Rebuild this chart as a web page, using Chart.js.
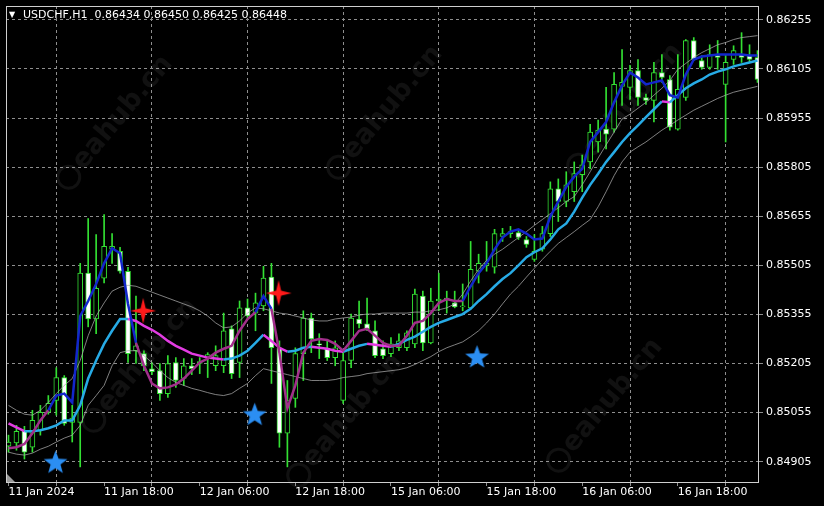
<!DOCTYPE html>
<html>
<head>
<meta charset="utf-8">
<title>USDCHF,H1</title>
<script src="https://cdn.jsdelivr.net/npm/chart.js@4.4.1/dist/chart.umd.min.js"></script>
<style>
  html, body { margin: 0; padding: 0; background: #000; }
  canvas { display: block; }
</style>
</head>
<body>
<canvas id="chart" width="824" height="506"></canvas>
<script>
const symbolTitle = 'USDCHF,H1  0.86434 0.86450 0.86425 0.86448';

// hourly bars, bar 0 = 11 Jan 06:00 (weekend gap after bar 41)
const labelBars = [0, 12, 24, 36, 48, 60, 72, 84];
const labelTexts = ['11 Jan 2024', '11 Jan 18:00', '12 Jan 06:00', '12 Jan 18:00',
  '15 Jan 06:00', '15 Jan 18:00', '16 Jan 06:00', '16 Jan 18:00'];
const priceTicks = [0.84905, 0.85055, 0.85205, 0.85355, 0.85505, 0.85655, 0.85805, 0.85955, 0.86105, 0.86255];

const opens = [
  0.84952, 0.84962, 0.85001, 0.84949, 0.85001, 0.85056, 0.85092, 0.85162, 0.85025, 0.85025,
  0.85481, 0.85341, 0.85466, 0.85554, 0.85548, 0.85487, 0.85244, 0.85235, 0.85189, 0.85183,
  0.85113, 0.85208, 0.85159, 0.85198, 0.85205, 0.85223, 0.85198, 0.85198, 0.85311, 0.85208,
  0.85375, 0.85359, 0.85381, 0.85469, 0.85253, 0.84992, 0.85098, 0.85235, 0.85344, 0.85265,
  0.85250, 0.85223, 0.85092, 0.85214, 0.85341, 0.85326, 0.85305, 0.85250, 0.85235, 0.85253,
  0.85253, 0.85265, 0.85411, 0.85268, 0.85396, 0.85399, 0.85390, 0.85378, 0.85375, 0.85487,
  0.85505, 0.85499, 0.85593, 0.85602, 0.85605, 0.85584, 0.85523, 0.85554, 0.85602, 0.85739,
  0.85700, 0.85730, 0.85782, 0.85821, 0.85882, 0.85921, 0.85921, 0.86052, 0.86049, 0.86100,
  0.86018, 0.86009, 0.86094, 0.86073, 0.85921, 0.86018, 0.86192, 0.86131, 0.86110, 0.86146,
  0.86058, 0.86134, 0.86149, 0.86146, 0.86140
];
const highs = [
  0.84986, 0.85016, 0.85013, 0.85062, 0.85077, 0.85107, 0.85192, 0.85168, 0.85077, 0.85511,
  0.85648, 0.85599, 0.85660, 0.85602, 0.85560, 0.85499, 0.85411, 0.85244, 0.85208, 0.85205,
  0.85229, 0.85223, 0.85220, 0.85220, 0.85223, 0.85238, 0.85259, 0.85359, 0.85320, 0.85396,
  0.85402, 0.85420, 0.85502, 0.85511, 0.85274, 0.85153, 0.85253, 0.85366, 0.85359, 0.85296,
  0.85274, 0.85274, 0.85238, 0.85356, 0.85396, 0.85405, 0.85335, 0.85274, 0.85284, 0.85296,
  0.85305, 0.85432, 0.85426, 0.85435, 0.85481, 0.85426, 0.85426, 0.85448, 0.85578, 0.85539,
  0.85578, 0.85615, 0.85618, 0.85624, 0.85615, 0.85593, 0.85599, 0.85624, 0.85760, 0.85769,
  0.85791, 0.85821, 0.85842, 0.85936, 0.85949, 0.86049, 0.86094, 0.86164, 0.86116, 0.86134,
  0.86028, 0.86125, 0.86149, 0.86085, 0.86149, 0.86195, 0.86201, 0.86146, 0.86179, 0.86192,
  0.86149, 0.86176, 0.86216, 0.86179, 0.86161
];
const lows = [
  0.84934, 0.84940, 0.84913, 0.84934, 0.84986, 0.85050, 0.85047, 0.85016, 0.84965, 0.84889,
  0.85317, 0.85296, 0.85451, 0.85511, 0.85481, 0.85208, 0.85205, 0.85183, 0.85171, 0.85092,
  0.85101, 0.85132, 0.85138, 0.85171, 0.85174, 0.85162, 0.85183, 0.85177, 0.85159, 0.85162,
  0.85341, 0.85305, 0.85366, 0.85144, 0.84949, 0.84889, 0.85071, 0.85153, 0.85238, 0.85220,
  0.85214, 0.85198, 0.85083, 0.85192, 0.85314, 0.85305, 0.85223, 0.85220, 0.85226, 0.85244,
  0.85244, 0.85253, 0.85244, 0.85265, 0.85366, 0.85359, 0.85375, 0.85366, 0.85372, 0.85451,
  0.85487, 0.85481, 0.85578, 0.85590, 0.85584, 0.85560, 0.85517, 0.85548, 0.85593, 0.85639,
  0.85684, 0.85700, 0.85730, 0.85800, 0.85851, 0.85861, 0.85912, 0.85994, 0.86012, 0.85994,
  0.85997, 0.85943, 0.86064, 0.85918, 0.85918, 0.86009, 0.86131, 0.86104, 0.86104, 0.86104,
  0.85882, 0.86119, 0.86125, 0.86125, 0.86064
];
const closes = [
  0.84965, 0.84998, 0.84934, 0.85031, 0.85056, 0.85083, 0.85162, 0.85022, 0.85038, 0.85481,
  0.85341, 0.85435, 0.85563, 0.85563, 0.85487, 0.85235, 0.85259, 0.85198, 0.85180, 0.85113,
  0.85205, 0.85153, 0.85198, 0.85189, 0.85211, 0.85232, 0.85229, 0.85305, 0.85174, 0.85375,
  0.85350, 0.85390, 0.85466, 0.85253, 0.84992, 0.85092, 0.85235, 0.85344, 0.85280, 0.85262,
  0.85223, 0.85253, 0.85214, 0.85344, 0.85326, 0.85311, 0.85229, 0.85229, 0.85265, 0.85274,
  0.85299, 0.85417, 0.85268, 0.85396, 0.85402, 0.85405, 0.85378, 0.85381, 0.85493, 0.85511,
  0.85511, 0.85602, 0.85602, 0.85608, 0.85590, 0.85569, 0.85548, 0.85602, 0.85739, 0.85700,
  0.85751, 0.85785, 0.85812, 0.85912, 0.85918, 0.85906, 0.86058, 0.86064, 0.86100, 0.86018,
  0.86009, 0.86094, 0.86079, 0.85927, 0.86043, 0.86192, 0.86134, 0.86110, 0.86149, 0.86140,
  0.86125, 0.86161, 0.86140, 0.86134, 0.86073
];

// slow average: light blue when rising, magenta when falling
const slowMA = [
  0.85022, 0.85010, 0.84998, 0.84998, 0.85001, 0.85007, 0.85016, 0.85031, 0.85031, 0.85077,
  0.85159, 0.85214, 0.85265, 0.85305, 0.85341, 0.85341, 0.85335, 0.85320, 0.85308, 0.85293,
  0.85274, 0.85259, 0.85247, 0.85235, 0.85229, 0.85223, 0.85220, 0.85217, 0.85220, 0.85229,
  0.85244, 0.85268, 0.85293, 0.85274, 0.85253, 0.85241, 0.85244, 0.85253, 0.85256, 0.85253,
  0.85250, 0.85244, 0.85241, 0.85250, 0.85259, 0.85265, 0.85262, 0.85259, 0.85256, 0.85265,
  0.85277, 0.85287, 0.85302, 0.85317, 0.85329, 0.85338, 0.85347, 0.85356, 0.85372, 0.85396,
  0.85417, 0.85441, 0.85463, 0.85481, 0.85505, 0.85530, 0.85545, 0.85557, 0.85584, 0.85615,
  0.85633, 0.85669, 0.85712, 0.85751, 0.85785, 0.85821, 0.85851, 0.85882, 0.85909, 0.85933,
  0.85958, 0.85982, 0.86006, 0.86003, 0.86025, 0.86046, 0.86061, 0.86073, 0.86088, 0.86097,
  0.86104, 0.86113, 0.86119, 0.86125, 0.86131
];
// fast average: blue inside fastBlueRanges, purple elsewhere
const fastMA = [
  0.84946, 0.84949, 0.84959, 0.84992, 0.85031, 0.85062, 0.85107, 0.85113, 0.85086, 0.85350,
  0.85396, 0.85448, 0.85511, 0.85557, 0.85542, 0.85387, 0.85268, 0.85198, 0.85144, 0.85129,
  0.85132, 0.85141, 0.85159, 0.85183, 0.85208, 0.85220, 0.85238, 0.85250, 0.85259, 0.85305,
  0.85341, 0.85362, 0.85411, 0.85372, 0.85238, 0.85068, 0.85138, 0.85238, 0.85274, 0.85280,
  0.85277, 0.85265, 0.85244, 0.85274, 0.85305, 0.85311, 0.85290, 0.85268, 0.85259, 0.85259,
  0.85290, 0.85329, 0.85335, 0.85359, 0.85390, 0.85402, 0.85396, 0.85396, 0.85441, 0.85481,
  0.85511, 0.85554, 0.85590, 0.85608, 0.85615, 0.85602, 0.85584, 0.85587, 0.85654, 0.85700,
  0.85745, 0.85776, 0.85800, 0.85882, 0.85912, 0.85943, 0.86003, 0.86055, 0.86094, 0.86079,
  0.86058, 0.86064, 0.86070, 0.86025, 0.86018, 0.86088, 0.86134, 0.86143, 0.86146, 0.86149,
  0.86149, 0.86149, 0.86149, 0.86146, 0.86146
];
const fastBlueRanges = [[5, 15], [31, 32], [57, 93]];

const upperBand = [
  0.85077, 0.85062, 0.85050, 0.85047, 0.85062, 0.85086, 0.85113, 0.85138, 0.85159, 0.85214,
  0.85290, 0.85350, 0.85390, 0.85426, 0.85438, 0.85444, 0.85441, 0.85432, 0.85423, 0.85414,
  0.85405, 0.85396, 0.85387, 0.85378, 0.85366, 0.85350, 0.85329, 0.85314, 0.85317, 0.85335,
  0.85359, 0.85375, 0.85372, 0.85366, 0.85359, 0.85356, 0.85350, 0.85344, 0.85338, 0.85335,
  0.85335, 0.85341, 0.85344, 0.85347, 0.85353, 0.85356, 0.85356, 0.85359, 0.85359, 0.85359,
  0.85359, 0.85362, 0.85362, 0.85366, 0.85369, 0.85375, 0.85387, 0.85417, 0.85457, 0.85493,
  0.85520, 0.85539, 0.85554, 0.85572, 0.85590, 0.85608, 0.85627, 0.85645, 0.85663, 0.85681,
  0.85700, 0.85715, 0.85751, 0.85791, 0.85833, 0.85873, 0.85912, 0.85952, 0.85967, 0.85985,
  0.86003, 0.86025, 0.86046, 0.86070, 0.86104, 0.86122, 0.86140, 0.86155, 0.86167, 0.86179,
  0.86186, 0.86195, 0.86201, 0.86204, 0.86207
];
const lowerBand = [
  0.84934, 0.84928, 0.84925, 0.84931, 0.84943, 0.84952, 0.84965, 0.84977, 0.84986, 0.85016,
  0.85077, 0.85107, 0.85138, 0.85198, 0.85238, 0.85244, 0.85244, 0.85229, 0.85208, 0.85183,
  0.85162, 0.85147, 0.85138, 0.85129, 0.85123, 0.85116, 0.85110, 0.85107, 0.85113, 0.85129,
  0.85144, 0.85168, 0.85189, 0.85183, 0.85177, 0.85171, 0.85165, 0.85159, 0.85153, 0.85153,
  0.85153, 0.85156, 0.85162, 0.85165, 0.85168, 0.85174, 0.85177, 0.85180, 0.85183, 0.85186,
  0.85192, 0.85202, 0.85214, 0.85226, 0.85241, 0.85253, 0.85262, 0.85271, 0.85287, 0.85305,
  0.85329, 0.85356, 0.85387, 0.85417, 0.85441, 0.85469, 0.85496, 0.85523, 0.85548, 0.85572,
  0.85590, 0.85608, 0.85627, 0.85645, 0.85684, 0.85730, 0.85779, 0.85821, 0.85851, 0.85867,
  0.85882, 0.85900, 0.85918, 0.85933, 0.85949, 0.85964, 0.85979, 0.85991, 0.86003, 0.86015,
  0.86025, 0.86034, 0.86040, 0.86046, 0.86052
];

// signal arrows: bar position and price
const buyBars = [5.9, 30.9, 58.8];
const buyPrices = [0.84901, 0.85047, 0.85223];
const sellBars = [16.9, 33.9];
const sellPrices = [0.85366, 0.85420];

const green = '#33e033';
const gridColor = '#8e8e8e';

function toPoints(values) {
  return values.map((v, i) => ({ x: i, y: v }));
}

function starImage(points, outer, inner, color) {
  const c = document.createElement('canvas');
  const size = Math.ceil(outer * 2) + 2;
  c.width = size;
  c.height = size;
  const g = c.getContext('2d');
  g.translate(size / 2, size / 2);
  g.beginPath();
  for (let k = 0; k < points * 2; k++) {
    const r = k % 2 ? inner : outer;
    const a = -Math.PI / 2 + k * Math.PI / points;
    g.lineTo(Math.cos(a) * r, Math.sin(a) * r);
  }
  g.closePath();
  g.fillStyle = color;
  g.fill();
  return c;
}

function inBlue(i) {
  return fastBlueRanges.some(r => i >= r[0] && i <= r[1]);
}

const chromePlugin = {
  id: 'chrome',
  beforeDatasetsDraw(chart) {
    const ctx = chart.ctx;
    const marks = [[115, 122], [385, 112], [625, 110], [140, 365], [345, 420], [605, 405]];
    ctx.save();
    ctx.fillStyle = 'rgba(255,255,255,0.065)';
    ctx.strokeStyle = 'rgba(255,255,255,0.065)';
    ctx.font = 'bold 27px "DejaVu Sans"';
    ctx.textAlign = 'center';
    ctx.textBaseline = 'middle';
    marks.forEach(m => {
      ctx.save();
      ctx.translate(m[0], m[1]);
      ctx.rotate(-50 * Math.PI / 180);
      ctx.fillText('eahub.cn', 12, 0);
      ctx.lineWidth = 3;
      ctx.beginPath();
      ctx.arc(-72, 0, 11, 0, Math.PI * 2);
      ctx.stroke();
      ctx.restore();
    });
    ctx.restore();
  },
  afterDraw(chart) {
    const ctx = chart.ctx;
    const a = chart.chartArea;
    ctx.save();
    ctx.strokeStyle = '#cfcfcf';
    ctx.lineWidth = 1;
    ctx.strokeRect(a.left + 0.5, a.top + 0.5, a.right - a.left - 1, a.bottom - a.top);

    // chart shift marker
    ctx.fillStyle = '#9a9a9a';
    ctx.beginPath();
    ctx.moveTo(a.left + 1, a.bottom - 8);
    ctx.lineTo(a.left + 1, a.bottom);
    ctx.lineTo(a.left + 9, a.bottom);
    ctx.closePath();
    ctx.fill();

    ctx.fillStyle = '#ffffff';
    ctx.textBaseline = 'middle';
    ctx.font = '8px "DejaVu Sans"';
    ctx.fillText('\u25BC', 9, 15);
    ctx.font = '11px "DejaVu Sans"';
    ctx.fillText(symbolTitle, 23, 15);
    ctx.restore();
  }
};

Chart.defaults.font.family = '"DejaVu Sans"';
Chart.defaults.font.size = 11;
Chart.defaults.color = '#ffffff';

new Chart(document.getElementById('chart'), {
  type: 'line',
  data: {
    datasets: [
      {
        type: 'bar',
        label: 'wicks',
        data: lows.map((l, i) => ({ x: i, y: [l, highs[i]] })),
        backgroundColor: green,
        borderWidth: 0,
        barThickness: 1,
        grouped: false,
        order: 5
      },
      {
        type: 'bar',
        label: 'bodies',
        data: opens.map((o, i) => ({ x: i, y: [Math.min(o, closes[i]), Math.max(o, closes[i])] })),
        backgroundColor: opens.map((o, i) => closes[i] >= o ? '#000000' : '#ffffff'),
        borderColor: green,
        borderWidth: 1,
        borderSkipped: false,
        barThickness: 5,
        minBarLength: 1,
        grouped: false,
        order: 4
      },
      {
        label: 'upper',
        data: toPoints(upperBand),
        borderColor: 'rgba(170,170,170,0.75)',
        borderWidth: 1,
        pointRadius: 0,
        tension: 0,
        order: 3
      },
      {
        label: 'lower',
        data: toPoints(lowerBand),
        borderColor: 'rgba(170,170,170,0.75)',
        borderWidth: 1,
        pointRadius: 0,
        tension: 0,
        order: 3
      },
      {
        label: 'slow',
        data: toPoints(slowMA),
        borderColor: '#27abe6',
        borderWidth: 2.5,
        pointRadius: 0,
        tension: 0,
        segment: {
          borderColor: c => c.p1.parsed.y >= c.p0.parsed.y ? '#27abe6' : '#e23ce2'
        },
        order: 2
      },
      {
        label: 'fast',
        data: toPoints(fastMA),
        borderColor: '#1226cc',
        borderWidth: 2.5,
        pointRadius: 0,
        tension: 0,
        segment: {
          borderColor: c => inBlue(c.p0DataIndex) ? '#1226cc' : '#a22f8b'
        },
        order: 1
      },
      {
        label: 'buy',
        data: buyBars.map((b, i) => ({ x: b, y: buyPrices[i] })),
        showLine: false,
        pointRadius: 5,
        pointStyle: starImage(5, 12.5, 5.2, '#2b8ef2'),
        order: 0
      },
      {
        label: 'sell',
        data: sellBars.map((b, i) => ({ x: b, y: sellPrices[i] })),
        showLine: false,
        pointRadius: 5,
        pointStyle: starImage(4, 13, 3.6, '#ff1a1a'),
        order: 0
      }
    ]
  },
  options: {
    responsive: false,
    devicePixelRatio: 1,
    animation: false,
    events: [],
    layout: { padding: { left: 3, top: 3, right: 0, bottom: 0 } },
    plugins: { legend: { display: false }, tooltip: { enabled: false } },
    scales: {
      x: {
        type: 'linear',
        position: 'bottom',
        min: -0.3125,
        max: 94.1875,
        offset: false,
        afterBuildTicks: scale => {
          const t = [];
          for (let v = 0; v <= 90; v += 6) t.push({ value: v });
          scale.ticks = t;
        },
        afterFit: scale => {
          scale.height = 24;
          scale.paddingLeft = 0;
          scale.paddingRight = 0;
        },
        ticks: {
          autoSkip: false,
          maxRotation: 0,
          minRotation: 0,
          align: 'start',
          padding: 0,
          color: '#ffffff',
          callback: value => {
            const k = labelBars.indexOf(value);
            return k >= 0 ? labelTexts[k] : '';
          }
        },
        grid: {
          offset: false,
          color: c => (c.tick && c.tick.value % 12 === 6) ? gridColor : 'rgba(0,0,0,0)',
          tickColor: gridColor,
          tickLength: 4,
          lineWidth: 1
        },
        border: { display: false, dash: [3, 3] }
      },
      y: {
        type: 'linear',
        position: 'right',
        min: 0.848428,
        max: 0.862975,
        afterBuildTicks: scale => {
          scale.ticks = priceTicks.map(v => ({ value: v }));
        },
        afterFit: scale => {
          scale.width = 65;
          scale.paddingTop = 0;
          scale.paddingBottom = 0;
        },
        ticks: {
          padding: 3,
          color: '#ffffff',
          callback: value => value.toFixed(5)
        },
        grid: {
          color: gridColor,
          tickColor: gridColor,
          tickLength: 4,
          lineWidth: 1
        },
        border: { display: false, dash: [3, 3] }
      }
    }
  },
  plugins: [chromePlugin]
});
</script>
</body>
</html>
